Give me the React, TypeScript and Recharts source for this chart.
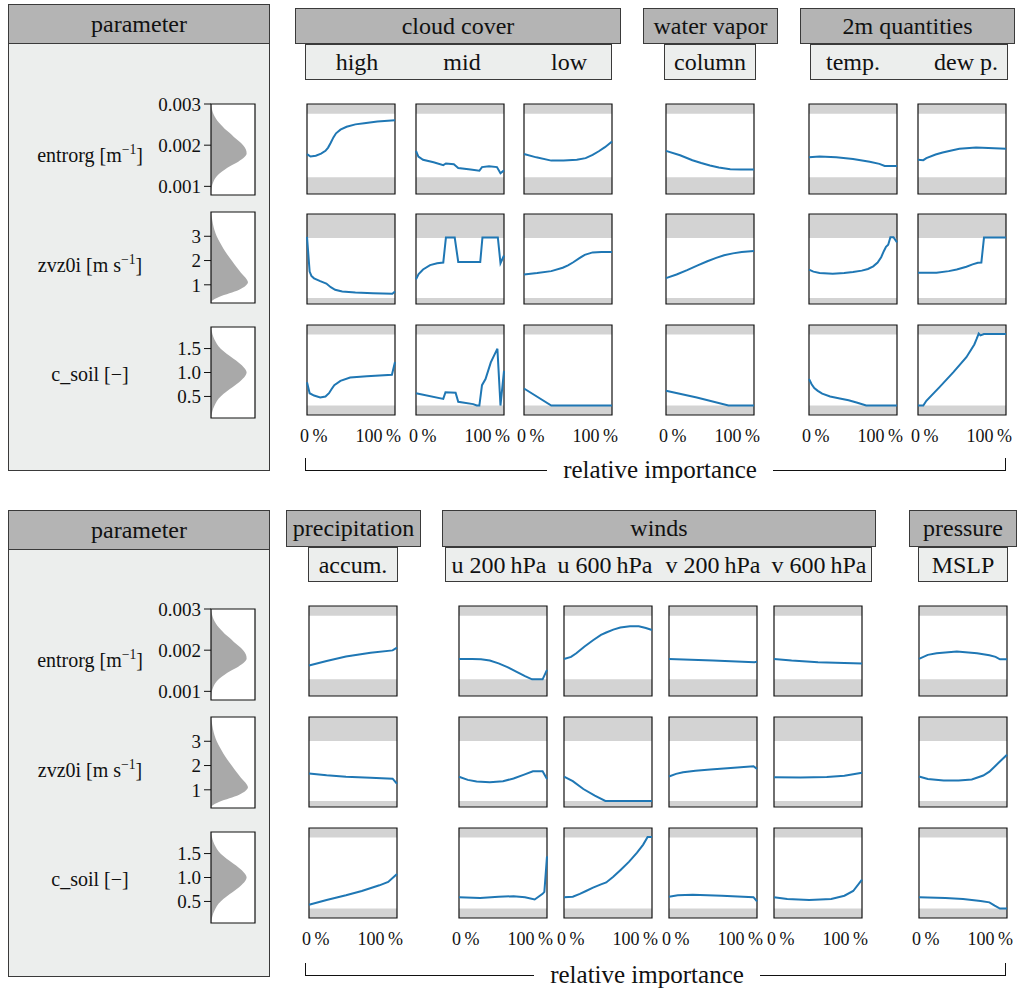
import React from "react";
import { LineChart, Line, XAxis, YAxis, ReferenceArea, AreaChart, Area } from "recharts";

const FONT = "'Liberation Serif', 'DejaVu Serif', serif";
const INK = "#111";
const BLUE = "#1f77b4";
const BAND = "#d3d3d3";
const DIST = "#a9a9a9";
const HEAD_DARK = "#b4b4b4";
const HEAD_LIGHT = "#eceeed";

// relative importance axis (%)
const pctDomain = [0, 100];
const pctTicks = [0, 100];

// parameter axes
const entrorgDomain = [0.00079, 0.003];
const entrorgTicks = [0.001, 0.002, 0.003];
const entrorgRange = [0.0012, 0.00276];

const zvz0iDomain = [0.25, 4.0];
const zvz0iTicks = [1, 2, 3];
const zvz0iMainTicks = [1, 2, 3, 4];
const zvz0iRange = [0.5, 3.0];

const csoilDomain = [0.05, 1.95];
const csoilTicks = [0.5, 1.0, 1.5];
const csoilRange = [0.25, 1.75];

// prior densities: [value, relative density]
const entrorgDensity = [
  [0.00079, 0], [0.0009, 0.005], [0.001, 0.02], [0.0011, 0.05], [0.0012, 0.1],
  [0.0013, 0.18], [0.0014, 0.3], [0.0015, 0.45], [0.0016, 0.62], [0.0017, 0.75],
  [0.0018, 0.81], [0.0019, 0.79], [0.002, 0.73], [0.0021, 0.63], [0.0022, 0.52],
  [0.0023, 0.42], [0.0024, 0.31], [0.0025, 0.22], [0.0026, 0.14], [0.0027, 0.08],
  [0.0028, 0.04], [0.0029, 0.015], [0.003, 0],
];
const zvz0iDensity = [
  [0.25, 0], [0.35, 0.03], [0.5, 0.18], [0.65, 0.42], [0.8, 0.64], [0.95, 0.78],
  [1.1, 0.84], [1.3, 0.78], [1.5, 0.68], [1.75, 0.57], [2.0, 0.47], [2.25, 0.37],
  [2.5, 0.28], [2.75, 0.2], [3.0, 0.13], [3.25, 0.08], [3.5, 0.045], [3.75, 0.02], [4.0, 0],
];
const csoilDensity = [
  [0.05, 0], [0.15, 0.02], [0.25, 0.05], [0.35, 0.1], [0.45, 0.17], [0.55, 0.28],
  [0.65, 0.42], [0.75, 0.57], [0.85, 0.7], [0.95, 0.79], [1.0, 0.81], [1.05, 0.79],
  [1.15, 0.7], [1.25, 0.57], [1.35, 0.42], [1.45, 0.28], [1.55, 0.17], [1.65, 0.1],
  [1.75, 0.05], [1.85, 0.02], [1.95, 0],
];

// ---- top figure: [relative importance %, parameter value] ----
const ccHighEntrorg = [[0, 0.00177], [4, 0.00171], [10, 0.00173], [16, 0.00178], [21, 0.00185], [24, 0.00193], [27, 0.00205], [30, 0.00218], [33, 0.00228], [38, 0.00237], [45, 0.00244], [55, 0.0025], [65, 0.00253], [80, 0.00257], [100, 0.0026]];
const ccHighZvz0i = [[0, 3.05], [3, 1.6], [5, 1.42], [8, 1.32], [15, 1.2], [22, 1.1], [27, 0.95], [32, 0.84], [40, 0.77], [55, 0.73], [75, 0.7], [97, 0.68], [100, 0.77]];
const ccHighCsoil = [[0, 0.74], [3, 0.51], [8, 0.46], [15, 0.42], [21, 0.44], [25, 0.51], [28, 0.6], [31, 0.68], [38, 0.77], [49, 0.84], [68, 0.87], [96.5, 0.9], [100, 1.17]];

const ccMidEntrorg = [[0, 0.00185], [2.7, 0.00171], [8, 0.00163], [20, 0.00157], [31, 0.0015], [34, 0.00154], [43, 0.00152], [48, 0.00143], [62, 0.00139], [72, 0.00136], [75, 0.00145], [83, 0.00147], [92, 0.00145], [96, 0.0013], [100, 0.00137]];
const ccMidZvz0i = [[0, 1.28], [3, 1.5], [8, 1.69], [16, 1.87], [24, 1.95], [31, 1.98], [34, 3.02], [44, 3.02], [48, 2.0], [73, 2.0], [75.5, 3.02], [93, 3.02], [96, 1.95], [100, 2.27]];
const ccMidCsoil = [[0, 0.51], [31, 0.39], [33.5, 0.53], [45, 0.52], [48, 0.33], [65, 0.28], [69, 0.25], [72, 0.25], [75, 0.68], [79, 0.81], [85, 1.16], [92.5, 1.45], [96, 0.25], [100, 0.98]];

const ccLowEntrorg = [[0, 0.00177], [14, 0.00169], [31, 0.00161], [45, 0.00161], [60, 0.00163], [70, 0.00167], [78, 0.00175], [85, 0.00184], [92, 0.00194], [100, 0.00208]];
const ccLowZvz0i = [[0, 1.48], [15, 1.54], [31, 1.62], [44, 1.76], [50, 1.86], [56, 1.99], [63, 2.16], [69, 2.3], [78, 2.4], [88, 2.42], [100, 2.42]];
const ccLowCsoil = [[0, 0.61], [31, 0.25], [100, 0.25]];

const wvColEntrorg = [[0, 0.00185], [16, 0.00174], [30, 0.00162], [40, 0.00155], [50, 0.00149], [60, 0.00144], [73, 0.0014], [85, 0.00139], [100, 0.00139]];
const wvColZvz0i = [[0, 1.33], [12, 1.48], [24, 1.66], [36, 1.86], [47, 2.03], [57, 2.17], [66, 2.28], [76, 2.36], [86, 2.42], [100, 2.46]];
const wvColCsoil = [[0, 0.56], [35, 0.42], [71, 0.25], [100, 0.25]];

const t2mEntrorg = [[0, 0.00169], [12, 0.00171], [31, 0.00169], [50, 0.00165], [69, 0.00158], [80, 0.00153], [86, 0.00148], [100, 0.00148]];
const t2mZvz0i = [[0, 1.68], [5, 1.6], [12, 1.54], [27, 1.51], [40, 1.54], [50, 1.58], [60, 1.64], [67, 1.71], [73, 1.82], [78, 1.98], [82, 2.2], [85, 2.45], [87.5, 2.63], [90, 2.72], [92.5, 3.03], [96, 3.03], [100, 2.82]];
const t2mCsoil = [[0, 0.81], [3, 0.7], [6, 0.62], [10, 0.56], [15, 0.5], [24, 0.44], [35, 0.4], [45, 0.36], [55, 0.31], [65, 0.25], [100, 0.25]];

const td2mEntrorg = [[0, 0.00163], [6, 0.00162], [9.5, 0.00167], [20, 0.00176], [28, 0.00181], [38, 0.00186], [47, 0.0019], [66, 0.00193], [80, 0.00192], [100, 0.0019]];
const td2mZvz0i = [[0, 1.55], [21, 1.55], [35, 1.62], [44, 1.69], [55, 1.8], [62, 1.9], [68, 1.97], [72, 1.98], [75, 3.02], [100, 3.02]];
const td2mCsoil = [[0, 0.25], [6, 0.25], [9.5, 0.35], [25, 0.65], [40, 0.95], [55, 1.27], [64, 1.54], [66.5, 1.65], [69, 1.77], [71, 1.73], [75, 1.76], [100, 1.76]];

// ---- bottom figure ----
const precipEntrorg = [[0, 0.00154], [20, 0.00165], [42, 0.00176], [70, 0.00185], [95, 0.00191], [100, 0.00198]];
const precipZvz0i = [[0, 1.65], [20, 1.57], [42, 1.51], [70, 1.47], [95, 1.43], [100, 1.22]];
const precipCsoil = [[0, 0.33], [20, 0.43], [42, 0.53], [60, 0.62], [80, 0.74], [90, 0.81], [100, 0.98]];

const u200Entrorg = [[0, 0.0017], [15, 0.0017], [25, 0.00169], [35, 0.00166], [45, 0.00159], [55, 0.0015], [65, 0.00139], [75, 0.00128], [83, 0.0012], [95, 0.0012], [100, 0.00143]];
const u200Zvz0i = [[0, 1.51], [10, 1.38], [20, 1.31], [35, 1.28], [50, 1.32], [62, 1.44], [74, 1.6], [84, 1.74], [95, 1.74], [100, 1.42]];
const u200Csoil = [[0, 0.49], [24, 0.47], [45, 0.5], [62, 0.51], [75, 0.49], [86, 0.44], [95, 0.56], [97, 0.6], [100, 1.35]];

const u600Entrorg = [[0, 0.0017], [8, 0.00175], [14, 0.00184], [23, 0.002], [33, 0.00216], [42, 0.00229], [48, 0.00235], [56, 0.00242], [64, 0.00247], [75, 0.0025], [85, 0.0025], [93, 0.00246], [100, 0.00241]];
const u600Zvz0i = [[0, 1.52], [10, 1.33], [22, 1.0], [35, 0.72], [47, 0.5], [100, 0.5]];
const u600Csoil = [[0, 0.49], [10, 0.5], [18, 0.56], [25, 0.62], [33, 0.69], [42, 0.76], [48, 0.8], [56, 0.92], [64, 1.06], [74, 1.24], [83, 1.43], [90, 1.6], [95, 1.76], [100, 1.76]];

const v200Entrorg = [[0, 0.0017], [50, 0.00166], [97, 0.00162], [100, 0.00163]];
const v200Zvz0i = [[0, 1.52], [8, 1.63], [16, 1.7], [30, 1.76], [47, 1.81], [70, 1.87], [96, 1.95], [100, 1.84]];
const v200Csoil = [[0, 0.5], [10, 0.53], [27, 0.54], [60, 0.52], [96, 0.49], [100, 0.4]];

const v600Entrorg = [[0, 0.0017], [20, 0.00166], [50, 0.00162], [100, 0.00159]];
const v600Zvz0i = [[0, 1.49], [30, 1.48], [60, 1.5], [80, 1.55], [100, 1.68]];
const v600Csoil = [[0, 0.49], [15, 0.45], [40, 0.43], [65, 0.45], [80, 0.52], [90, 0.62], [100, 0.86]];

const mslpEntrorg = [[0, 0.0017], [10, 0.0018], [20, 0.00184], [43, 0.00188], [66, 0.00184], [80, 0.00179], [87, 0.00175], [92, 0.00169], [100, 0.00169]];
const mslpZvz0i = [[0, 1.52], [10, 1.42], [28, 1.35], [45, 1.35], [60, 1.4], [73, 1.56], [80, 1.72], [87, 1.97], [94, 2.22], [100, 2.43]];
const mslpCsoil = [[0, 0.49], [30, 0.47], [50, 0.45], [70, 0.41], [80, 0.38], [86, 0.31], [92, 0.25], [100, 0.25]];

type Pair = number[];

const PARAMS = [
  { label: <>entrorg [m<sup style={{ fontSize: "0.68em" }}>−1</sup>]</>, domain: entrorgDomain, ticks: entrorgTicks, mainTicks: entrorgTicks, range: entrorgRange, density: entrorgDensity, fmt: (v: number) => v.toFixed(3) },
  { label: <>zvz0i [m s<sup style={{ fontSize: "0.68em" }}>−1</sup>]</>, domain: zvz0iDomain, ticks: zvz0iTicks, mainTicks: zvz0iMainTicks, range: zvz0iRange, density: zvz0iDensity, fmt: (v: number) => String(v) },
  { label: <>c_soil [−]</>, domain: csoilDomain, ticks: csoilTicks, mainTicks: csoilTicks, range: csoilRange, density: csoilDensity, fmt: (v: number) => v.toFixed(1) },
];

const PW = 88;
const PH = 90;
const PADL = 15; // room left of the plot (tick marks + "0 %")
const PADR = 14; // room right of the plot ("100 %")
const PADT = 12; // room above the prior plot for its top tick label

const PctTick = (props: any) => {
  const { x, y, payload } = props;
  const first = payload.value === 0;
  return (
    <text
      x={first ? x - 7 : x + 6}
      y={y + 21}
      textAnchor={first ? "start" : "end"}
      dominantBaseline="central"
      fontSize={18}
      fontFamily={FONT}
      fill={INK}
    >
      {payload.value}{"\u2009"}%
    </text>
  );
};

function SmallChart({ pairs, param, left, top, showX }: { pairs: Pair[]; param: any; left: number; top: number; showX: boolean }) {
  const data = pairs.map(([x, y]) => ({ x, y }));
  const [lo, hi] = param.domain;
  return (
    <div style={{ position: "absolute", left: left - PADL, top: top - 1 }}>
      <LineChart width={PADL + PW + PADR} height={PH + 2 + (showX ? 30 : 0)} data={data} margin={{ top: 1, right: PADR, bottom: 1, left: PADL - 5 }}>
        <XAxis type="number" dataKey="x" domain={pctDomain} ticks={pctTicks} hide={!showX} height={30} axisLine={false} tickLine={false} tickSize={0} tickMargin={0} interval={0} tick={PctTick} />
        <YAxis type="number" domain={param.domain} ticks={param.mainTicks} interval={0} allowDataOverflow width={5} axisLine={false} tick={false} tickSize={4} tickLine={{ stroke: INK, strokeWidth: 1 }} />
        <ReferenceArea y1={lo} y2={param.range[0]} fill={BAND} fillOpacity={1} strokeWidth={0} />
        <ReferenceArea y1={param.range[1]} y2={hi} fill={BAND} fillOpacity={1} strokeWidth={0} />
        <Line dataKey="y" type="linear" stroke={BLUE} strokeWidth={2} dot={false} isAnimationActive={false} />
        <ReferenceArea x1={0} x2={100} y1={lo} y2={hi} fill="none" stroke={INK} strokeWidth={1.2} />
      </LineChart>
    </div>
  );
}

function Prior({ param, top }: { param: any; top: number }) {
  const data = param.density.map(([v, d]: number[]) => ({ v, d }));
  const [lo, hi] = param.domain;
  return (
    <div style={{ position: "absolute", left: 211 - 60, top: top - PADT }}>
      <AreaChart layout="vertical" width={60 + 44 + 1} height={91 + PADT + 12} data={data} margin={{ top: PADT, right: 1, bottom: 12, left: 0 }}>
        <XAxis type="number" domain={[0, 1]} hide />
        <YAxis
          type="number"
          dataKey="v"
          domain={param.domain}
          ticks={param.ticks}
          interval={0}
          reversed
          allowDataOverflow
          width={60}
          axisLine={false}
          tickSize={7}
          tickMargin={3}
          tickLine={{ stroke: INK, strokeWidth: 1 }}
          tick={{ fontSize: 19, fill: INK, fontFamily: FONT }}
          tickFormatter={param.fmt}
        />
        <ReferenceArea x1={0} x2={1} y1={lo} y2={hi} fill="#fff" fillOpacity={1} strokeWidth={0} />
        <Area dataKey="d" type="monotone" fill={DIST} fillOpacity={1} stroke="none" isAnimationActive={false} />
        <ReferenceArea x1={0} x2={1} y1={lo} y2={hi} fill="none" stroke={INK} strokeWidth={1.2} />
      </AreaChart>
    </div>
  );
}

function Box({ x1, x2, y1, y2, bg, children }: any) {
  return (
    <div
      style={{
        position: "absolute", left: x1, top: y1, width: x2 - x1, height: y2 - y1,
        boxSizing: "border-box", border: "1px solid #3a3a3a", background: bg,
        display: "flex", alignItems: "center", justifyContent: "center", fontSize: 24,
      }}
    >
      {children}
    </div>
  );
}

function Label({ cx, cy, size, children }: any) {
  return (
    <div style={{ position: "absolute", left: cx - 100, top: cy - 15, width: 200, height: 30, lineHeight: "30px", textAlign: "center", fontSize: size, whiteSpace: "nowrap" }}>
      {children}
    </div>
  );
}

const TOP = {
  box: [4, 44, 471],
  priorTops: [104, 212, 327],
  labelYs: [150, 260, 374],
  rowTops: [104, 214, 325],
  groups: [
    { title: "cloud cover", dark: [295, 621], sub: [305, 612], head: [8, 44, 80] },
    { title: "water vapor", dark: [643, 778], sub: [664, 756], head: [8, 44, 80] },
    { title: "2m quantities", dark: [800, 1015], sub: [810, 1008], head: [8, 44, 80] },
  ],
  subLabels: [["high", 357], ["mid", 462], ["low", 569], ["column", 710], ["temp.", 853], ["dew p.", 966]],
  cols: [
    { left: 307, series: [ccHighEntrorg, ccHighZvz0i, ccHighCsoil] },
    { left: 416, series: [ccMidEntrorg, ccMidZvz0i, ccMidCsoil] },
    { left: 524, series: [ccLowEntrorg, ccLowZvz0i, ccLowCsoil] },
    { left: 666, series: [wvColEntrorg, wvColZvz0i, wvColCsoil] },
    { left: 809, series: [t2mEntrorg, t2mZvz0i, t2mCsoil] },
    { left: 918, series: [td2mEntrorg, td2mZvz0i, td2mCsoil] },
  ],
  bracket: { top: 458, textX: 660 },
};

const BOTTOM = {
  box: [510, 550, 977],
  priorTops: [609, 717, 832],
  labelYs: [655, 765, 879],
  rowTops: [606, 717, 828],
  groups: [
    { title: "precipitation", dark: [286, 421], sub: [308, 398], head: [510, 547, 582] },
    { title: "winds", dark: [442, 876], sub: [445, 872], head: [510, 547, 582] },
    { title: "pressure", dark: [909, 1017], sub: [918, 1008], head: [510, 547, 582] },
  ],
  subLabels: [["accum.", 353], ["u 200\u2009hPa", 499], ["u 600\u2009hPa", 605], ["v 200\u2009hPa", 713], ["v 600\u2009hPa", 819], ["MSLP", 963]],
  cols: [
    { left: 309, series: [precipEntrorg, precipZvz0i, precipCsoil] },
    { left: 459, series: [u200Entrorg, u200Zvz0i, u200Csoil] },
    { left: 564, series: [u600Entrorg, u600Zvz0i, u600Csoil] },
    { left: 669, series: [v200Entrorg, v200Zvz0i, v200Csoil] },
    { left: 774, series: [v600Entrorg, v600Zvz0i, v600Csoil] },
    { left: 919, series: [mslpEntrorg, mslpZvz0i, mslpCsoil] },
  ],
  bracket: { top: 963, textX: 647 },
};

function Panel({ cfg }: { cfg: typeof TOP }) {
  const [bTop, bHead, bBottom] = cfg.box;
  return (
    <>
      <div style={{ position: "absolute", left: 8, top: bTop, width: 262, height: bBottom - bTop, boxSizing: "border-box", border: "1px solid #3a3a3a", background: HEAD_LIGHT }} />
      <Box x1={8} x2={270} y1={bTop} y2={bHead} bg={HEAD_DARK}>parameter</Box>
      {PARAMS.map((p, i) => (
        <React.Fragment key={i}>
          <Label cx={90} cy={cfg.labelYs[i]} size={20}>{p.label}</Label>
          <Prior param={p} top={cfg.priorTops[i]} />
        </React.Fragment>
      ))}
      {cfg.groups.map((g) => (
        <React.Fragment key={g.title}>
          <Box x1={g.dark[0]} x2={g.dark[1]} y1={g.head[0]} y2={g.head[1]} bg={HEAD_DARK}>{g.title}</Box>
          <Box x1={g.sub[0]} x2={g.sub[1]} y1={g.head[1]} y2={g.head[2]} bg={HEAD_LIGHT}>{""}</Box>
        </React.Fragment>
      ))}
      {cfg.subLabels.map(([t, cx]) => (
        <Label key={t as string} cx={cx} cy={(cfg.groups[0].head[1] + cfg.groups[0].head[2]) / 2} size={24}>{t}</Label>
      ))}
      {cfg.cols.map((c, ci) =>
        c.series.map((s, ri) => (
          <SmallChart key={`${ci}-${ri}`} pairs={s} param={PARAMS[ri]} left={c.left} top={cfg.rowTops[ri]} showX={ri === 2} />
        ))
      )}
      <div style={{ position: "absolute", left: 305, top: cfg.bracket.top, width: 701, height: 13, boxSizing: "border-box", borderLeft: `1px solid ${INK}`, borderRight: `1px solid ${INK}`, borderBottom: `1px solid ${INK}` }} />
      <div style={{ position: "absolute", left: cfg.bracket.textX - 150, top: cfg.bracket.top + 12 - 15, width: 300, height: 30, lineHeight: "30px", textAlign: "center", fontSize: 25 }}>
        <span style={{ background: "#fff", padding: "0 16px" }}>relative importance</span>
      </div>
    </>
  );
}

export default function App() {
  return (
    <div style={{ position: "absolute", left: 0, top: 0, width: 1017, height: 989, background: "#fff", fontFamily: FONT, color: INK, overflow: "hidden" }}>
      <Panel cfg={TOP} />
      <Panel cfg={BOTTOM} />
    </div>
  );
}
